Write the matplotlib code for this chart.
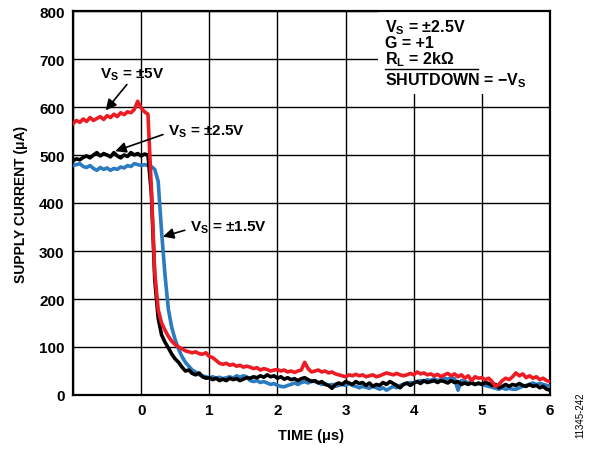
import numpy as np
import matplotlib
matplotlib.use("Agg")
import matplotlib.pyplot as plt
from matplotlib.patches import Rectangle

plt.rcParams['font.family'] = ['Liberation Sans', 'DejaVu Sans']
plt.rcParams['mathtext.fontset'] = 'custom'
plt.rcParams['mathtext.rm'] = 'Liberation Sans:bold'
plt.rcParams['mathtext.bf'] = 'Liberation Sans:bold'

# time axis (μs), 0.05 μs steps
t_start, t_stop, t_step = -1.0, 6.0, 0.05
time_us = np.round(np.arange(t_start, t_stop + t_step / 2, t_step), 2)

# Supply current (μA), VS = ±5V (red)
i_5v = [565, 572, 568, 575, 570, 578, 572, 576, 580, 574, 582, 578, 585, 580, 588, 584, 590, 588, 595, 612,
        598, 590, 585, 430, 255, 178, 150, 135, 122, 112, 105, 100, 96, 92, 90, 88, 90, 86, 85, 88,
        80, 78, 72, 66, 64, 66, 62, 64, 60, 62, 58, 60, 58, 55, 57, 52, 55, 53, 50, 52,
        53, 50, 52, 48, 50, 47, 50, 52, 68, 55, 48, 50, 52, 48, 50, 46, 48, 44, 42, 40,
        38, 42, 40, 43, 40, 42, 38, 40, 42, 38, 40, 43, 46, 44, 42, 45, 42, 40, 42, 45,
        42, 48, 44, 46, 42, 44, 40, 43, 38, 42, 45, 40, 44, 38, 42, 35, 40, 30, 38, 35,
        36, 32, 35, 28, 18, 22, 30, 35, 32, 38, 46, 40, 44, 36, 40, 35, 38, 32, 35, 30, 28]

# Supply current (μA), VS = ±2.5V (black)
i_2p5v = [488, 492, 490, 495, 498, 494, 500, 505, 498, 503, 500, 496, 505, 498, 494, 500, 497, 505, 500, 503,
          498, 502, 500, 420, 240, 160, 125, 110, 98, 85, 75, 68, 58, 50, 52, 45, 42, 46, 38, 35,
          36, 32, 35, 30, 33, 30, 35, 32, 34, 30, 33, 36, 35, 38, 36, 40, 37, 42, 38, 40,
          35, 38, 33, 36, 32, 34, 30, 34, 36, 32, 28, 30, 25, 28, 22, 20, 14, 22, 25, 22,
          28, 25, 22, 28, 24, 26, 20, 25, 18, 22, 20, 26, 22, 28, 24, 20, 15, 22, 25, 20,
          25, 28, 24, 30, 26, 28, 30, 26, 30, 28, 25, 30, 26, 28, 22, 25, 22, 26, 22, 25,
          22, 26, 24, 20, 22, 15, 18, 22, 18, 22, 20, 24, 20, 18, 22, 18, 20, 15, 18, 12, 10]

# Supply current (μA), VS = ±1.5V (blue)
i_1p5v = [478, 480, 482, 476, 474, 478, 472, 468, 474, 470, 473, 468, 472, 470, 475, 473, 478, 476, 482, 480,
          478, 480, 478, 476, 470, 445, 340, 250, 178, 140, 115, 95, 80, 68, 60, 52, 48, 42, 40, 38,
          36, 38, 35, 37, 34, 36, 38, 35, 40, 37, 40, 38, 30, 28, 30, 26, 28, 25, 22, 24,
          20, 18, 17, 20, 22, 25, 22, 26, 28, 25, 30, 28, 26, 22, 24, 20, 22, 18, 20, 22,
          20, 24, 20, 18, 15, 18, 16, 14, 18, 15, 12, 15, 10, 14, 18, 15, 20, 22, 24, 26,
          25, 28, 30, 28, 32, 30, 34, 30, 32, 35, 33, 36, 34, 10, 30, 28, 26, 24, 22, 24,
          22, 20, 18, 16, 14, 12, 15, 12, 14, 12, 12, 15, 18, 20, 22, 25, 22, 24, 22, 20, 18]

assert len(i_5v) == len(time_us) == len(i_2p5v) == len(i_1p5v)

x_ticks = [0, 1, 2, 3, 4, 5, 6]
y_ticks = [0, 100, 200, 300, 400, 500, 600, 700, 800]

RED = '#ED1C24'
BLUE = '#2B7BC0'

fig = plt.figure(figsize=(5.93, 4.52), dpi=100)
ax = fig.add_axes([73 / 593, 56 / 452, 477 / 593, 384 / 452])

ax.set_xlim(-1, 6)
ax.set_ylim(0, 800)
ax.set_xticks(np.arange(-1, 7, 1))
ax.set_xticklabels([''] + [str(v) for v in x_ticks])
ax.set_yticks(y_ticks)
ax.set_yticklabels([str(v) for v in y_ticks])
ax.grid(True, color='black', linewidth=1.0)
ax.set_axisbelow(True)
ax.tick_params(length=0, labelsize=11, pad=6)
for lab in ax.get_xticklabels() + ax.get_yticklabels():
    lab.set_fontweight('bold')
for s in ax.spines.values():
    s.set_linewidth(1.6)

# white box behind the conditions text
ax.add_patch(Rectangle((0.64, 0.784), 0.36, 0.216, transform=ax.transAxes,
                       facecolor='white', edgecolor='none', zorder=1.5))

ax.plot(time_us, i_1p5v, color=BLUE, lw=2.6, zorder=3)
ax.plot(time_us, i_2p5v, color='black', lw=2.6, zorder=4)
ax.plot(time_us, i_5v, color=RED, lw=2.6, zorder=5)

ax.set_xlabel('TIME (μs)', fontsize=10.5, fontweight='bold', labelpad=8)
ax.set_ylabel('SUPPLY CURRENT (μA)', fontsize=10, fontweight='bold', labelpad=8)

arrow = dict(arrowstyle='-|>', color='black', lw=1.2, mutation_scale=16)
ax.annotate(r'V$_\mathregular{S}$ = ±5V', xy=(-0.52, 593), xytext=(-0.6, 670),
            fontsize=11, fontweight='bold', ha='left', va='center',
            arrowprops=dict(arrow, shrinkA=0, shrinkB=0, relpos=(0.45, 0.0)), zorder=6)
ax.annotate(r'V$_\mathregular{S}$ = ±2.5V', xy=(-0.38, 508), xytext=(0.4, 550),
            fontsize=11, fontweight='bold', ha='left', va='center',
            arrowprops=dict(arrow, shrinkA=2, shrinkB=0, relpos=(0.0, 0.4)), zorder=6)
ax.annotate(r'V$_\mathregular{S}$ = ±1.5V', xy=(0.32, 330), xytext=(0.72, 350),
            fontsize=11, fontweight='bold', ha='left', va='center',
            arrowprops=dict(arrow, shrinkA=2, shrinkB=0, relpos=(0.0, 0.4)), zorder=6)

tx = 0.655
fs = 11.5
ax.text(tx, 0.958, r'V$_\mathregular{S}$ = ±2.5V', transform=ax.transAxes, fontsize=fs,
        fontweight='bold', va='center', ha='left', zorder=6)
ax.text(tx, 0.917, 'G = +1', transform=ax.transAxes, fontsize=fs,
        fontweight='bold', va='center', ha='left', zorder=6)
ax.text(tx, 0.875, r'R$_\mathregular{L}$ = 2kΩ', transform=ax.transAxes, fontsize=fs,
        fontweight='bold', va='center', ha='left', zorder=6)
ax.text(tx, 0.820, r'SHUTDOWN = −V$_\mathregular{S}$', transform=ax.transAxes, fontsize=fs,
        fontweight='bold', va='center', ha='left', zorder=6)
ax.plot([tx, 0.85], [0.848, 0.848], transform=ax.transAxes, color='black', lw=1.0, zorder=6)

fig.text(580 / 593, 1 - 415 / 452, '11345-242', rotation=90, fontsize=7,
         ha='center', va='center', family='Liberation Sans')

fig.savefig('out.png', dpi=100)
